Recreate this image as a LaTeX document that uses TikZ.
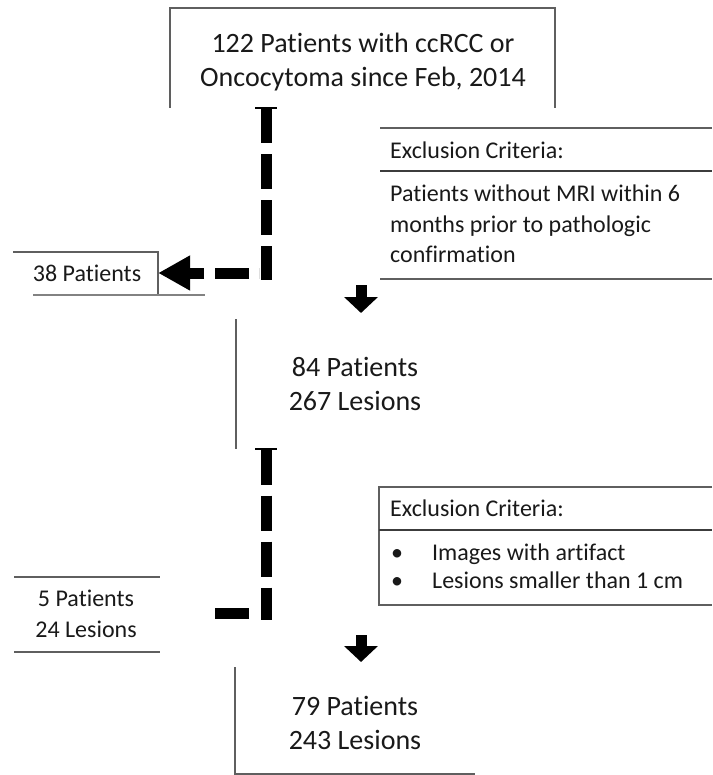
\documentclass[tikz,border=0pt]{standalone}
\usepackage{fontspec}
\setmainfont{Carlito}[Ligatures={NoCommon}]
\usetikzlibrary{arrows.meta}
\definecolor{txt}{RGB}{25,25,25}
\definecolor{ln}{RGB}{95,95,95}
\definecolor{lnl}{RGB}{130,130,130}
\definecolor{lnd}{RGB}{60,60,60}
\begin{document}
\begin{tikzpicture}[x=1pt,y=-1pt,
  bigtxt/.style={font=\fontsize{28pt}{34pt}\selectfont, text=txt, align=center, inner sep=0pt},
  bigtxtb/.style={font=\fontsize{28pt}{34.5pt}\selectfont, text=txt, align=center, inner sep=0pt},
  smalltxt/.style={font=\fontsize{24pt}{30.5pt}\selectfont, text=txt, align=left, inner sep=0pt},
  thinline/.style={draw=ln, line width=1.3pt},
  lightline/.style={draw=lnl, line width=1.3pt},
  divider/.style={draw=lnd, line width=2.6pt},
  heavy/.style={line width=11pt, draw=black},
  vdash/.style={heavy, dash pattern=on 35pt off 11pt, {Bar[width=22pt,line width=2pt]}-},
  leftarrow/.style={heavy, -{Triangle[length=32pt,width=33pt]}},
  downarrow/.style={heavy, -{Triangle[length=16pt,width=33pt]}}
]
\useasboundingbox (0,0) rectangle (712,775);

% top box
\node[bigtxt, anchor=north] (top) at (363,28.2) {\strut 122 Patients with ccRCC or\\ Oncocytoma since Feb, 2014\strut};
\draw[thinline] (170,108) -- (170,8) -- (555,8) -- (555,108);

% first exclusion
\coordinate (v1a) at (266,107);
\coordinate (v1b) at (266,280);
\draw[vdash] (v1a) -- (v1b);
\node[smalltxt, anchor=base, minimum width=142pt, align=center] (p38) at (87,281) {38 Patients};
\draw[thinline] (13,252) -- (158,252) -- (158,294);
\draw[lightline] (33,295) -- (205,295);
\coordinate (h1) at (259,273);
\draw[leftarrow, dash pattern=on 34pt off 11pt on 100pt off 10pt, dash phase=145pt] (h1) -- (h1 -| p38.east);

\draw[thinline] (380,128) -- (712,128);
\draw[divider] (380,171) -- (712,171);
\draw[thinline] (380,279) -- (712,279);
\node[smalltxt, anchor=base west] (ex1h) at (390,158.7) {Exclusion Criteria:};
\node[smalltxt, anchor=north west] (ex1b) at (390,180.4) {\strut Patients without MRI within 6\\ months prior to pathologic\\ confirmation\strut};

\coordinate (d1a) at (361,285);
\coordinate (d1b) at (361,313);
\draw[downarrow] (d1a) -- (d1b);

% 84 patients
\node[bigtxtb, anchor=north] (n84) at (355,352) {\strut 84 Patients\\ 267 Lesions\strut};
\draw[thinline] (236,319) -- (236,449);

% second exclusion
\coordinate (v2a) at (266,448);
\coordinate (v2b) at (266,620);
\draw[vdash] (v2a) -- (v2b);
\node[smalltxt, font=\fontsize{24pt}{31pt}\selectfont, align=center, anchor=north, minimum width=148pt] (p5) at (86,585) {\strut 5 Patients\\ 24 Lesions\strut};
\draw[thinline] (14,577) -- (160,577);
\draw[thinline] (14,652) -- (160,652);
\coordinate (h2) at (259,613);
\draw[heavy, dash pattern=on 34pt off 210pt, dash phase=234pt] (h2) -- (h2 -| p5.east);

\draw[thinline] (712,487) -- (379,487) -- (379,605) -- (712,605);
\draw[divider] (379,530) -- (712,530);
\node[smalltxt, anchor=base west] (ex2h) at (390,516.7) {Exclusion Criteria:};
\node[smalltxt, font=\fontsize{24pt}{28pt}\selectfont, anchor=north west] (ex2b) at (391,541) {\strut\makebox[41pt][l]{•}Images with artifact\\ \makebox[41pt][l]{•}Lesions smaller than 1 cm\strut};

\coordinate (d2a) at (361,635);
\coordinate (d2b) at (361,662);
\draw[downarrow] (d2a) -- (d2b);

% 79 patients
\node[bigtxtb, anchor=north] (n79) at (355,691) {\strut 79 Patients\\ 243 Lesions\strut};
\draw[thinline] (235,667) -- (235,774) -- (475,774);
\end{tikzpicture}
\end{document}
